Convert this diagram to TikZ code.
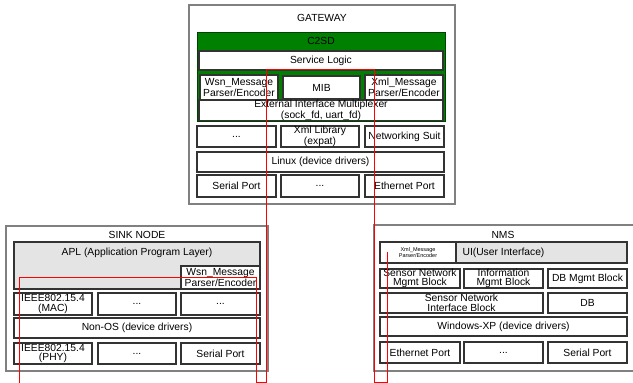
\documentclass[tikz,border=0pt]{standalone}
\usepackage{fontspec}
\setmainfont{Liberation Sans}
\definecolor{gwgreen}{RGB}{0,128,0}
\definecolor{lgray}{RGB}{228,228,228}
\newcommand\bx[7]{\node[#6, anchor=north west, minimum width={(#4-#2)*1pt}, minimum height={(#5-#3)*1pt}] (#1) at (#2,#3) {#7};}
\begin{document}
\begin{tikzpicture}[x=1pt,y=-1pt,
  box/.style={draw=black!80, line width=1.1pt, fill=white, inner sep=0pt, outer sep=0pt, align=center, font=\fontsize{10.3}{9.4}\selectfont},
  graybox/.style={box, fill=lgray},
  outerbox/.style={draw=black!50, line width=1.4pt, fill=white, inner sep=0pt, outer sep=0pt},
  greenbox/.style={draw=black!50!gwgreen, line width=1pt, fill=gwgreen, inner sep=0pt, outer sep=0pt},
  tinybox/.style={box, font=\fontsize{5.5}{6}\selectfont},
  title/.style={font=\fontsize{10.3}{10}\selectfont, inner sep=0pt},
  flow/.style={draw=red, line width=0.8pt}]
\useasboundingbox[fill=white] (0,0) rectangle (633,383);
% ---------------- GATEWAY ----------------
\bx{gw}{189}{5}{455}{204}{outerbox}{}
\node[title] (gwt) at (322,18) {GATEWAY};
\bx{c2sd}{197}{32}{445}{121}{greenbox}{}
\node[title] (c2sdt) at (321,41) {C2SD};
\bx{svc}{199}{51}{443}{70}{box}{Service Logic}
\bx{wsn}{200}{75}{278}{100}{box}{Wsn\_Message\\Parser/Encoder}
\bx{mib}{283}{76}{360}{99}{box}{MIB}
\bx{xmlm}{365}{75}{443}{100}{box}{Xml\_Message\\Parser/Encoder}
\bx{ext}{199}{100}{443}{119}{box}{External Interface Multiplexer\\(sock\_fd, uart\_fd)}
\bx{gd1}{197}{126}{276}{147}{box}{...}
\bx{xlib}{281}{126}{359}{147}{box}{Xml Library\\(expat)}
\bx{net}{365}{126}{444}{147}{box}{Networking Suit}
\bx{linux}{197}{152}{444}{172}{box}{Linux (device drivers)}
\bx{gser}{197}{175}{276}{197}{box}{Serial Port}
\bx{gd2}{281}{175}{359}{197}{box}{...}
\bx{geth}{365}{175}{444}{197}{box}{Ethernet Port}
% ---------------- SINK NODE ----------------
\bx{sink}{6}{226}{268}{371}{outerbox}{}
\node[title] (sinkt) at (137,235) {SINK NODE};
\bx{apl}{14}{242}{260}{289}{graybox}{}
\node[title] (aplt) at (137,253) {APL (Application Program Layer)};
\bx{swsn}{181}{266}{260}{289}{box}{Wsn\_Message\\Parser/Encoder}
\bx{mac}{14}{293}{92}{315}{box}{IEEE802.15.4\\(MAC)}
\bx{sd1}{98}{293}{176}{315}{box}{...}
\bx{sd2}{181}{293}{260}{315}{box}{...}
\bx{nonos}{14}{318}{260}{338}{box}{Non-OS (device drivers)}
\bx{phy}{14}{343}{92}{364}{box}{IEEE802.15.4\\(PHY)}
\bx{sd3}{98}{343}{176}{364}{box}{...}
\bx{sser}{181}{343}{260}{364}{box}{Serial Port}
% ---------------- NMS ----------------
\bx{nms}{374}{225}{640}{371}{outerbox}{}
\node[title] (nmst) at (503,235) {NMS};
\bx{ui}{380}{242}{627}{263}{graybox}{UI(User Interface)}
\bx{nxml}{380}{242}{456}{263}{tinybox}{Xml\_Message\\Parser/Encoder}
\bx{snm}{380}{269}{460}{288}{box}{Sensor Network\\Mgmt Block}
\bx{inf}{464}{269}{543}{288}{box}{Information\\Mgmt Block}
\bx{dbm}{548}{269}{627}{288}{box}{DB Mgmt Block}
\bx{sni}{380}{293}{543}{313}{box}{Sensor Network\\Interface Block}
\bx{db}{548}{293}{627}{313}{box}{DB}
\bx{win}{380}{317}{627}{336}{box}{Windows-XP (device drivers)}
\bx{neth}{380}{342}{460}{363}{box}{Ethernet Port}
\bx{nd}{464}{342}{543}{363}{box}{...}
\bx{nser}{548}{342}{627}{363}{box}{Serial Port}
% ---------------- red flow ----------------
\coordinate (ra) at (266,69);
\coordinate (rb) at (374,69);
\coordinate (rc) at (266,382);
\coordinate (rd) at (256,382);
\coordinate (re) at (256,277);
\coordinate (rf) at (19,277);
\coordinate (rg) at (19,384);
\coordinate (rh) at (374,382);
\coordinate (ri) at (387,382);
\coordinate (rj) at (387,252);
\draw[flow] (rb) -- (ra) -- (rc) -- (rd) -- (re) -- (rf) -- (rg);
\draw[flow] (rb) -- (rh) -- (ri) -- (rj);
\end{tikzpicture}
\end{document}
